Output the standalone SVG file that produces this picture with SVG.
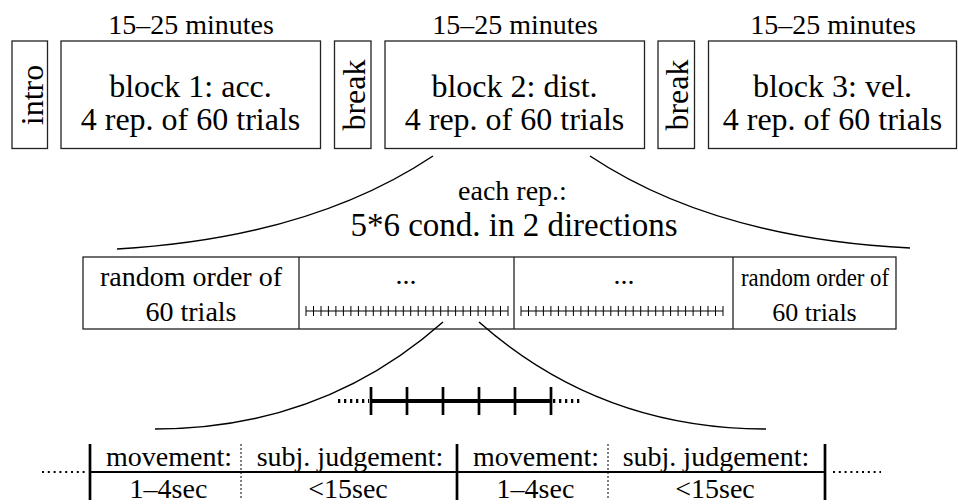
<svg xmlns="http://www.w3.org/2000/svg" width="958" height="504" viewBox="0 0 958 504">
  <style>
    text { font-family: "Liberation Serif", "Times New Roman", serif; fill: #000; }
    .big { font-size: 32px; text-anchor: middle; }
    .sm { font-size: 28px; text-anchor: middle; }
    .narrow { font-size: 26px; text-anchor: middle; }
    .box { fill: #fff; stroke: #222; stroke-width: 1.3; }
    .div { stroke: #222; stroke-width: 1.3; }
    .curve { fill: none; stroke: #000; stroke-width: 1.5; }
    .tick { stroke: #000; stroke-width: 1; }
    .bar { stroke: #000; stroke-width: 2.7; }
    .sep { stroke: #000; stroke-width: 1; stroke-dasharray: 2 2; }
    .dots { stroke: #000; stroke-width: 2; stroke-dasharray: 2 3.8; }
    .dots-bold { stroke: #000; stroke-width: 4; stroke-dasharray: 2.3 3.7; }
  </style>
  <defs>
    <!-- one trial mark on the repetition strip -->
    <line id="trialTick" class="tick" x1="0" y1="306" x2="0" y2="316"/>
  </defs>

  <!-- session overview: intro, three blocks, two breaks -->
  <g id="intro">
    <rect class="box" x="12" y="41" width="35.5" height="107.5"/>
    <text class="big" transform="translate(43,95) rotate(-90)">intro</text>
  </g>
  <g id="block1">
    <text class="sm" x="191" y="34">15–25 minutes</text>
    <rect class="box" x="61" y="41" width="259.5" height="107.5"/>
    <text class="big" x="190.5" y="97">block 1: acc.</text>
    <text class="big" x="190.5" y="130">4 rep. of 60 trials</text>
  </g>
  <g id="break1">
    <rect class="box" x="334.5" y="41" width="36.5" height="107.5"/>
    <text class="big" transform="translate(365,95) rotate(-90)">break</text>
  </g>
  <g id="block2">
    <text class="sm" x="515" y="34">15–25 minutes</text>
    <rect class="box" x="385" y="41" width="259.5" height="107.5"/>
    <text class="big" x="514.5" y="97">block 2: dist.</text>
    <text class="big" x="514.5" y="130">4 rep. of 60 trials</text>
  </g>
  <g id="break2">
    <rect class="box" x="658" y="41" width="36.5" height="107.5"/>
    <text class="big" transform="translate(688,95) rotate(-90)">break</text>
  </g>
  <g id="block3">
    <text class="sm" x="833" y="34">15–25 minutes</text>
    <rect class="box" x="708.5" y="41" width="248" height="107.5"/>
    <text class="big" x="832.5" y="97">block 3: vel.</text>
    <text class="big" x="832.5" y="130">4 rep. of 60 trials</text>
  </g>

  <!-- zoom-in label for one repetition -->
  <g id="rep-label">
    <text class="sm" x="512.5" y="200">each rep.:</text>
    <text class="big" x="514" y="236" style="font-size:33px">5*6 cond. in 2 directions</text>
  </g>

  <!-- one repetition, split into four cells -->
  <g id="rep-row">
    <rect class="box" x="83" y="257" width="813" height="72"/>
    <line class="div" x1="299" y1="257" x2="299" y2="329"/>
    <line class="div" x1="514" y1="257" x2="514" y2="329"/>
    <line class="div" x1="733" y1="257" x2="733" y2="329"/>
    <text class="sm" x="191" y="286">random order of</text>
    <text class="sm" x="191" y="321">60 trials</text>
    <text class="sm" x="406" y="284">...</text>
    <text class="sm" x="624" y="284">...</text>
    <text class="narrow" x="815" y="286" textLength="148" lengthAdjust="spacingAndGlyphs">random order of</text>
    <text class="narrow" x="814.5" y="321">60 trials</text>
    <!-- trial strips -->
    <g id="strip-a">
      <line class="tick" x1="306" y1="311" x2="508" y2="311"/>
      <use href="#trialTick" x="306"/><use href="#trialTick" x="313.5"/><use href="#trialTick" x="321"/><use href="#trialTick" x="328.4"/>
      <use href="#trialTick" x="335.9"/><use href="#trialTick" x="343.4"/><use href="#trialTick" x="350.9"/><use href="#trialTick" x="358.4"/>
      <use href="#trialTick" x="365.9"/><use href="#trialTick" x="373.3"/><use href="#trialTick" x="380.8"/><use href="#trialTick" x="388.3"/>
      <use href="#trialTick" x="395.8"/><use href="#trialTick" x="403.3"/><use href="#trialTick" x="410.7"/><use href="#trialTick" x="418.2"/>
      <use href="#trialTick" x="425.7"/><use href="#trialTick" x="433.2"/><use href="#trialTick" x="440.7"/><use href="#trialTick" x="448.1"/>
      <use href="#trialTick" x="455.6"/><use href="#trialTick" x="463.1"/><use href="#trialTick" x="470.6"/><use href="#trialTick" x="478.1"/>
      <use href="#trialTick" x="485.6"/><use href="#trialTick" x="493"/><use href="#trialTick" x="500.5"/><use href="#trialTick" x="508"/>
    </g>
    <use href="#strip-a" x="215"/>
  </g>

  <!-- a few consecutive trials -->
  <g id="trial-timeline">
    <line class="dots-bold" x1="338" y1="401" x2="369" y2="401"/>
    <line class="dots-bold" x1="553" y1="401" x2="583" y2="401"/>
    <line stroke="#000" stroke-width="4" x1="371" y1="401" x2="551" y2="401"/>
    <line class="bar" x1="371" y1="387" x2="371" y2="415"/>
    <line class="bar" x1="407" y1="387" x2="407" y2="415"/>
    <line class="bar" x1="443" y1="387" x2="443" y2="415"/>
    <line class="bar" x1="479" y1="387" x2="479" y2="415"/>
    <line class="bar" x1="515" y1="387" x2="515" y2="415"/>
    <line class="bar" x1="551" y1="387" x2="551" y2="415"/>
  </g>

  <!-- phases within two trials -->
  <g id="trial-detail">
    <line class="dots" x1="42" y1="472" x2="88" y2="472"/>
    <line class="dots" x1="833" y1="472" x2="881" y2="472"/>
    <line stroke="#000" stroke-width="2.2" x1="90" y1="472" x2="825" y2="472"/>
    <line class="bar" x1="90" y1="444" x2="90" y2="500"/>
    <line class="bar" x1="457" y1="444" x2="457" y2="500"/>
    <line class="bar" x1="825" y1="444" x2="825" y2="500"/>
    <line class="sep" x1="241" y1="444" x2="241" y2="500"/>
    <line class="sep" x1="608" y1="444" x2="608" y2="500"/>
    <text class="sm" x="169" y="466">movement:</text>
    <text class="sm" x="350" y="466">subj. judgement:</text>
    <text class="sm" x="168.5" y="498">1–4sec</text>
    <text class="sm" x="348" y="498">&lt;15sec</text>
    <text class="sm" x="536" y="466">movement:</text>
    <text class="sm" x="716" y="466">subj. judgement:</text>
    <text class="sm" x="535.5" y="498">1–4sec</text>
    <text class="sm" x="715" y="498">&lt;15sec</text>
  </g>

  <!-- zoom connectors -->
  <g id="connectors">
    <path class="curve" d="M433,156 Q310,238 117,249"/>
    <path class="curve" d="M590,156 Q713,238 910,248"/>
    <path class="curve" d="M443,322 Q322,429 155,429"/>
    <path class="curve" d="M479,322 Q600,429 766,429"/>
  </g>
</svg>
